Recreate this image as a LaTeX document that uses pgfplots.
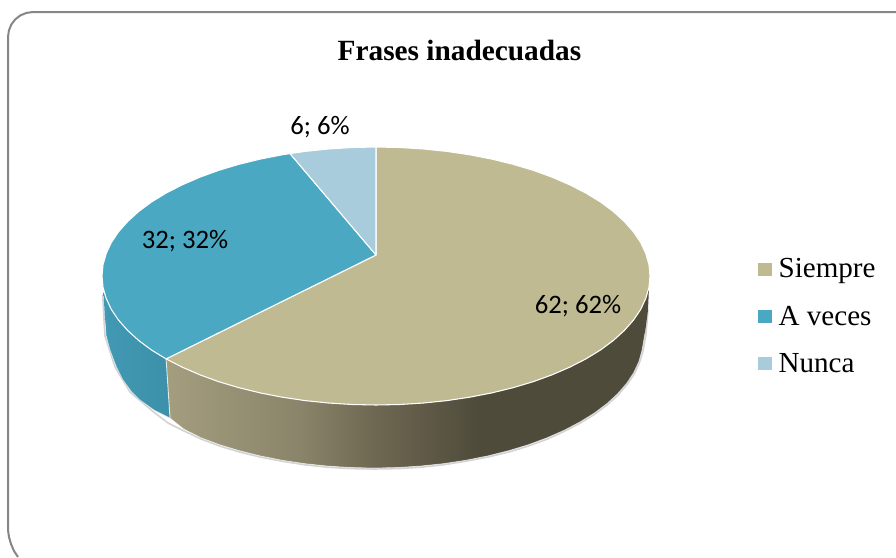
\documentclass[border=0pt]{standalone}
\usepackage{pgfplots}
\pgfplotsset{compat=1.18}
\usepackage{fontspec}
\setmainfont{Liberation Serif}
\newfontfamily\carl{Carlito}
\definecolor{tantop}{HTML}{BFBA92}
\definecolor{bluetop}{HTML}{4AA8C3}
\definecolor{lighttop}{HTML}{A8CCDB}
\definecolor{framec}{HTML}{868686}
\definecolor{sa}{HTML}{A49D7E}
\definecolor{sb}{HTML}{8A846A}
\definecolor{sc}{HTML}{6E6852}
\definecolor{sd}{HTML}{4F4B3B}
\definecolor{ba}{HTML}{4299B3}
\definecolor{bb}{HTML}{3C90A9}
\pgfdeclarehorizontalshading{tanside}{100bp}{color(0bp)=(sa); color(25bp)=(sa); color(38.8bp)=(sb); color(46.6bp)=(sc); color(57.4bp)=(sd); color(75bp)=(sd); color(100bp)=(sd)}
\pgfdeclarehorizontalshading{blueside}{100bp}{color(0bp)=(ba); color(25bp)=(ba); color(75bp)=(bb); color(100bp)=(bb)}
\begin{document}
\begin{tikzpicture}
\useasboundingbox (0,0) rectangle (672pt,417.75pt);
\begin{axis}[
  scale only axis, width=672pt, height=417.75pt,
  xmin=0, xmax=896, ymin=0, ymax=557, y dir=reverse,
  axis lines=none, clip=true,
  legend style={at={(axis cs:758,256)}, anchor=north west, draw=none, fill=none,
    font=\fontsize{21.8}{24}\selectfont, inner sep=0pt, outer sep=0pt, row sep=15.5pt,
    /tikz/every odd column/.append style={column sep=3pt}},
  legend cell align=left,
  legend image code/.code={\fill[#1, draw=none] (0pt,-4.8pt) rectangle (10.5pt,4.8pt);},
]
% chart frame
\addplot[forget plot, color=framec, line width=1.5pt, line join=round] coordinates {
(896,12)(33,12)(26.5,12.9)(20.5,15.3)(15.3,19.3)(11.3,24.5)(8.9,30.5)(8,37)
(8,530)(9,537)(11,544)(14,551)(18,557)};
% soft shadow under the rim
\addplot[forget plot, color=gray, opacity=0.35, line width=1.2pt] coordinates {
(648,310)(646,334)(643,351)(639.5,362.5)(634.5,373.5)(627.5,384)(618.5,394.5)(607.5,404.5)(595,414)(580.5,423)(564.5,431.2)(547.5,439)(528.5,446)(509,452)(488,457)(466,461.2)(444,464.7)(421,467.2)(397.5,468.6)(374,469)(350.5,468.6)(327,467.2)(304,464.7)(282,461.2)(260,457)(239.5,452)(219.7,446)(201,439)(184,431)(168,423)(153,411.5)(130,392)(115,367)(105,336)(104,320)(102.7,295)};
% side of Siempre
\addplot[forget plot, shading=tanside, draw=none] coordinates {
(649,287.2)(645.8,298.4)(640.7,309.4)(633.5,320.1)(624.3,330.5)(613.3,340.5)(600.5,350)(585.9,358.9)(569.7,367.2)(552.1,374.8)(533.2,381.7)(513,387.7)(491.8,392.9)(469.7,397.2)(446.9,400.6)(423.6,403)(399.9,404.5)(376,405)(352.1,404.5)(328.4,403)(305.1,400.6)(282.3,397.2)(260.2,392.9)(239,387.7)(218.8,381.7)(199.9,374.8)(182.3,367.2)(166.1,358.9)
(170,418)(183.8,429)(201.1,437.8)(219.7,444.7)(239.5,450.7)(260.3,455.9)(282,460.2)(304.4,463.6)(327.3,466)(350.5,467.5)(374,468)(397.5,467.5)(420.7,466)(443.6,463.6)(466,460.2)(487.7,455.9)(508.5,450.7)(528.3,444.7)(546.9,437.8)(564.2,430.2)(580,421.9)(594.4,413)(607,403.5)(617.8,393.5)(626.8,383.1)(633.8,372.4)(638.9,361.4)(642,350.2)(645,333)(648,310)} --cycle;
% side of A veces
\addplot[forget plot, shading=blueside, draw=none] coordinates {
(166.1,358.9)(151.5,350)(138.7,340.5)(127.7,330.5)(118.5,320.1)(111.3,309.4)(106.2,298.4)(103.5,292)
(105,320)(106,335)(110,350)(116,366)(123,380)(131,391)(140,400)(154,410)(170,418)} --cycle;
% white edges of the rim
\addplot[forget plot, color=white, opacity=0.75, line width=0.7pt] coordinates {
(166.1,358.9)(170,418)};
\addplot[forget plot, color=white, opacity=0.6, line width=0.5pt] coordinates {
(645,333)(642,350.2)(638.9,361.4)(633.8,372.4)(626.8,383.1)(617.8,393.5)(607,403.5)(594.4,413)(580,421.9)(564.2,430.2)(546.9,437.8)(528.3,444.7)(508.5,450.7)(487.7,455.9)(466,460.2)(443.6,463.6)(420.7,466)(397.5,467.5)(374,468)(350.5,467.5)(327.3,466)(304.4,463.6)(282,460.2)(260.3,455.9)(239.5,450.7)(219.7,444.7)(201.1,437.8)(183.8,429)(170,418)(154,410)(140,400)(131,391)(123,380)(116,366)(110,350)(106,335)(105,320)};
% top of the pie: Siempre 62
\addplot[forget plot, fill=tantop, draw=white, line width=0.8pt, line join=round] coordinates {
(376,255)(376,147)(399.9,147.5)(423.6,149)(446.9,151.4)(469.7,154.8)(491.8,159.1)(513,164.3)(533.2,170.3)(552.1,177.2)(569.7,184.8)(585.9,193.1)(600.5,202)(613.3,211.5)(624.3,221.5)(633.5,231.9)(640.7,242.6)(645.8,253.6)(649,264.8)(650,276)(649,287.2)(645.8,298.4)(640.7,309.4)(633.5,320.1)(624.3,330.5)(613.3,340.5)(600.5,350)(585.9,358.9)(569.7,367.2)(552.1,374.8)(533.2,381.7)(513,387.7)(491.8,392.9)(469.7,397.2)(446.9,400.6)(423.6,403)(399.9,404.5)(376,405)(352.1,404.5)(328.4,403)(305.1,400.6)(282.3,397.2)(260.2,392.9)(239,387.7)(218.8,381.7)(199.9,374.8)(182.3,367.2)(166.1,358.9)} --cycle;
% top of the pie: A veces 32
\addplot[forget plot, fill=bluetop, draw=white, line width=0.8pt, line join=round] coordinates {
(376,255)(166.1,358.9)(151.5,350)(138.7,340.5)(127.7,330.5)(118.5,320.1)(111.3,309.4)(106.2,298.4)(103,287.2)(102,276)(103,264.8)(106.2,253.6)(111.3,242.6)(118.5,231.9)(127.7,221.5)(138.7,211.5)(151.5,202)(166.1,193.1)(182.3,184.8)(199.9,177.2)(218.8,170.3)(239,164.3)(260.2,159.1)(282.3,154.8)(290,153.6)} --cycle;
% top of the pie: Nunca 6
\addplot[forget plot, fill=lighttop, draw=white, line width=0.8pt, line join=round] coordinates {
(376,255)(290,153.6)(305.1,151.4)(328.4,149)(352.1,147.5)(376,147)} --cycle;
% legend
\addlegendimage{fill=tantop}\addlegendentry{Siempre}
\addlegendimage{fill=bluetop}\addlegendentry{A veces}
\addlegendimage{fill=lighttop}\addlegendentry{Nunca}
% texts
\node[font=\fontsize{22}{24}\selectfont\bfseries] at (axis cs:459.5,51) {Frases inadecuadas};
\node[font=\carl\fontsize{20}{24}\selectfont] at (axis cs:320,127) {6; 6\%};
\node[font=\carl\fontsize{20}{24}\selectfont] at (axis cs:185,241) {32; 32\%};
\node[font=\carl\fontsize{20}{24}\selectfont] at (axis cs:578,306) {62; 62\%};
\end{axis}
\end{tikzpicture}
\end{document}
